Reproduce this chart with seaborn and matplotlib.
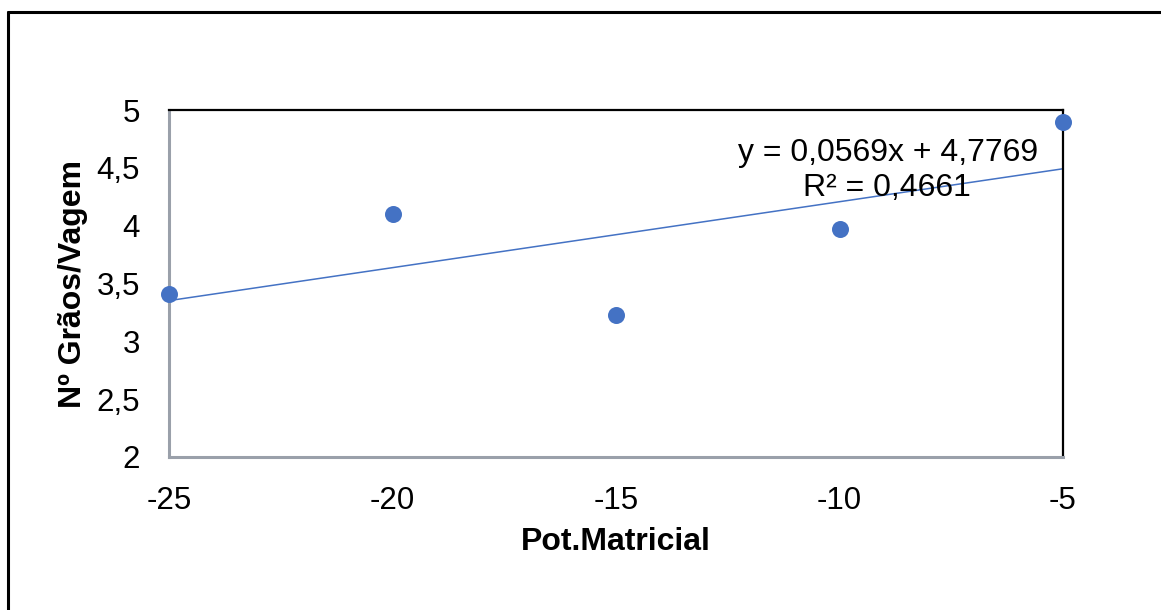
import matplotlib
matplotlib.use("Agg")
import matplotlib.pyplot as plt
import seaborn as sns
import pandas as pd
from matplotlib.lines import Line2D

# Data
pot_matricial = [-25, -20, -15, -10, -5]
graos_vagem = [3.41, 4.10, 3.23, 3.97, 4.90]
x_ticks = [-25, -20, -15, -10, -5]
x_tick_labels = ["-25", "-20", "-15", "-10", "-5"]
y_ticks = [2, 2.5, 3, 3.5, 4, 4.5, 5]
y_tick_labels = ["2", "2,5", "3", "3,5", "4", "4,5", "5"]
eq_text = "y = 0,0569x + 4,7769"
r2_text = "R² = 0,4661"
x_label = "Pot.Matricial"
y_label = "Nº Grãos/Vagem"

df = pd.DataFrame({"x": pot_matricial, "y": graos_vagem})

sns.set_theme(style="white")
plt.rcParams['font.family'] = ['Liberation Sans', 'DejaVu Sans']

fig = plt.figure(figsize=(11.61, 6.10), dpi=100)
ax = fig.add_axes([169/1161, 1-457/610, (1063-169)/1161, (457-110)/610])

blue = "#4472C4"
sns.regplot(data=df, x="x", y="y", ax=ax, scatter=False, ci=None,
            line_kws=dict(color=blue, lw=1.1), truncate=True)
sns.scatterplot(data=df, x="x", y="y", ax=ax, color=blue, s=150,
                edgecolor=blue, linewidth=0, zorder=5, clip_on=False)

fs = 22.5
ax.set_xlim(-25, -5)
ax.set_ylim(2, 5)
ax.set_xticks(x_ticks)
ax.set_xticklabels(x_tick_labels, fontsize=fs)
ax.set_yticks(y_ticks)
ax.set_yticklabels(y_tick_labels, fontsize=fs)
ax.tick_params(axis='x', length=0, pad=21, colors='black')
ax.tick_params(axis='y', length=0, pad=21, colors='black')

ax.set_xlabel(x_label, fontsize=23, fontweight='bold', labelpad=8, color='black')
ax.set_ylabel(y_label, fontsize=23, fontweight='bold', labelpad=6, color='black')

for side in ['left', 'bottom']:
    ax.spines[side].set_color('#9AA0AA')
    ax.spines[side].set_linewidth(2.2)
for side in ['top', 'right']:
    ax.spines[side].set_color('black')
    ax.spines[side].set_linewidth(1.6)

ax.text(888/1161, 1-153/610, eq_text, transform=fig.transFigure,
        ha='center', va='center', fontsize=23, color='black')
ax.text(887/1161, 1-188/610, r2_text, transform=fig.transFigure,
        ha='center', va='center', fontsize=23, color='black')

# outer frame (top and left)
fig.add_artist(Line2D([8/1161, 1], [1-12/610, 1-12/610], transform=fig.transFigure,
                      color='black', lw=2.2))
fig.add_artist(Line2D([8/1161, 8/1161], [0, 1-12/610], transform=fig.transFigure,
                      color='black', lw=2.2))

fig.savefig("out.png", dpi=100)
